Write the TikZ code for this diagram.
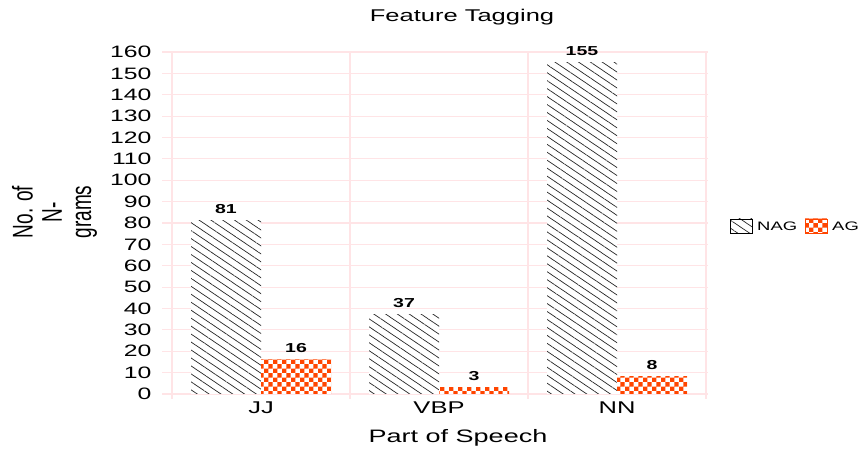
\documentclass[tikz,border=0pt]{standalone}
\usepackage{fontspec}
\setmainfont{Liberation Sans}
\usetikzlibrary{patterns.meta}

\definecolor{gridpink}{HTML}{FFE4E6}
\definecolor{agorange}{HTML}{FF4500}

% text in the chart is stretched sideways
\newcommand{\wide}[1]{\scalebox{1.5}[1]{#1}}

\pgfdeclarepattern{
  name=checks, type=uncolored,
  bottom left={\pgfpointorigin}, top right={\pgfqpoint{8.8pt}{8.8pt}},
  tile size={\pgfqpoint{8.8pt}{8.8pt}},
  code={
    \pgfpathrectangle{\pgfpointorigin}{\pgfqpoint{4.4pt}{4.4pt}}
    \pgfpathrectangle{\pgfqpoint{4.4pt}{4.4pt}}{\pgfqpoint{4.4pt}{4.4pt}}
    \pgfusepath{fill}
  }
}

\tikzset{
  nagbar/.style={preaction={fill=white},
    pattern={Lines[angle=-34,distance=6.6pt,line width=0.7pt]}, pattern color=black!85},
  agbar/.style={preaction={fill=white}, pattern=checks, pattern color=agorange},
  gridline/.style={draw=gridpink, line width=1.2pt},
  ticklabel/.style={font=\fontsize{16.5}{18}\selectfont, anchor=east},
  catlabel/.style={font=\fontsize{17}{18}\selectfont},
  barlabel/.style={font=\fontsize{13}{14}\selectfont\bfseries, anchor=south, inner sep=0pt, yshift=7pt},
  legendtext/.style={font=\fontsize{12.3}{13}\selectfont, anchor=base west, inner sep=0pt}
}

\begin{document}
\begin{tikzpicture}[x=1pt,y=1pt]
    \useasboundingbox (0,0) rectangle (862,452);

    % Title
    \node[anchor=base, font=\fontsize{17}{18}\selectfont] (title) at (462,430) {\wide{Feature Tagging}};

    \begin{scope}[yshift=58pt, y=2.1375pt]
        % Grid
        \foreach \v in {0,10,...,160}
            \draw[gridline] (162,\v) -- (708,\v);
        \foreach \x in {172,350,528,706}
            \draw[gridline] (\x,-2.4) -- (\x,160);

        % Y tick labels
        \foreach \v in {0,10,...,160}
            \node[ticklabel] (tick\v) at (155,\v) {\wide{\v}};

        % JJ bars
        \fill[nagbar] (191,0) rectangle (261,81);
        \fill[agbar] (261,0) rectangle (331,16);
        \node[barlabel] (jjnag) at (226,81) {\wide{81}};
        \node[barlabel] (jjag) at (296,16) {\wide{16}};

        % VBP bars
        \fill[nagbar] (369,0) rectangle (439,37);
        \fill[agbar] (439,0) rectangle (509,3);
        \node[barlabel] (vbpnag) at (404,37) {\wide{37}};
        \node[barlabel] (vbpag) at (474,3) {\wide{3}};

        % NN bars
        \fill[nagbar] (547,0) rectangle (617,155);
        \fill[agbar] (617,0) rectangle (687,8);
        \node[barlabel] (nnnag) at (582,155) {\wide{155}};
        \node[barlabel] (nnag) at (652,8) {\wide{8}};
    \end{scope}

    % Category labels
    \node[catlabel] (jj) at (261,44.5) {\wide{JJ}};
    \node[catlabel] (vbp) at (439,44.5) {\wide{VBP}};
    \node[catlabel] (nn) at (617,44.5) {\wide{NN}};

    % Axis titles
    \node[anchor=base, font=\fontsize{18}{19}\selectfont] (xtitle) at (458,9) {\wide{Part of Speech}};
    \node[rotate=90] (ytitle) at (56,240)
        {\scalebox{1}[1.5]{\fontsize{19}{19.5}\selectfont\begin{tabular}{@{}c@{}}No. of\\N-\\grams\end{tabular}}};

    % Legend
    \filldraw[nagbar, draw=black, line width=0.6pt] (730,219) rectangle (752,233);
    \node[legendtext] (lnag) at (757,221.3) {\wide{NAG}};
    \filldraw[agbar, draw=agorange, line width=0.6pt] (805,219) rectangle (827,233);
    \node[legendtext] (lag) at (832,221.3) {\wide{AG}};
\end{tikzpicture}
\end{document}
